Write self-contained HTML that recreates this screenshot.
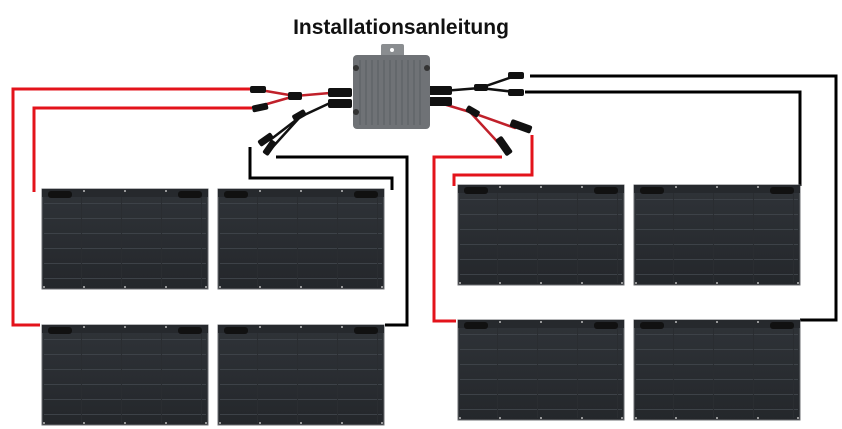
<!DOCTYPE html>
<html><head><style>
html,body{margin:0;padding:0;background:#fff;}
svg{display:block;}
</style></head><body>
<svg width="842" height="429" viewBox="0 0 842 429" xmlns="http://www.w3.org/2000/svg">
<defs>
<linearGradient id="pg" x1="0" y1="0" x2="0" y2="1">
<stop offset="0" stop-color="#2f3338"/><stop offset="1" stop-color="#24272b"/>
</linearGradient>
<pattern id="cells" width="40" height="15" patternUnits="userSpaceOnUse">
<rect width="40" height="15" fill="none"/>
<line x1="0" y1="14.5" x2="40" y2="14.5" stroke="#3d4248" stroke-width="1"/>
<line x1="39.5" y1="0" x2="39.5" y2="15" stroke="#2a2d31" stroke-width="1"/>
</pattern>
<g id="panel">
<rect x="0" y="0" width="166" height="100" fill="url(#pg)" stroke="#6b6e72" stroke-width="1"/>
<rect x="2" y="8" width="162" height="90" fill="url(#cells)"/>
<rect x="0" y="0" width="166" height="8" fill="#26292d"/>
<rect x="6" y="2" width="24" height="7" rx="3" fill="#111"/>
<rect x="136" y="2" width="24" height="7" rx="3" fill="#111"/>
<g fill="#bbb"><circle cx="42" cy="2" r="1"/><circle cx="83" cy="2" r="1"/><circle cx="124" cy="2" r="1"/>
<circle cx="2" cy="98" r="1"/><circle cx="42" cy="98" r="1"/><circle cx="83" cy="98" r="1"/><circle cx="124" cy="98" r="1"/><circle cx="164" cy="98" r="1"/></g>
</g>
</defs>

<text x="401" y="34" font-family="Liberation Sans, sans-serif" font-weight="bold" font-size="21" text-anchor="middle" fill="#111">Installationsanleitung</text>

<!-- wires -->
<g fill="none" stroke-width="3" stroke-linejoin="miter">
<polyline points="250,89 13,89 13,325 40,325" stroke="#e3131b"/>
<polyline points="252,108 34,108 34,192" stroke="#e3131b"/>
<polyline points="250,147 250,178 392,178 392,190" stroke="#000"/>
<polyline points="276,157 407,157 407,325 385,325" stroke="#000"/>
<polyline points="502,157 434,157 434,321 456,321" stroke="#e3131b"/>
<polyline points="532,135 532,175 454,175 454,186" stroke="#e3131b"/>
<polyline points="530,76 836,76 836,320 800,320" stroke="#000"/>
<polyline points="525,92 800,92 800,186" stroke="#000"/>
</g>

<!-- cable harness -->
<g fill="none" stroke-linecap="round">
<path d="M260,90 L295,96 L330,93" stroke="#c0202a" stroke-width="2.5"/>
<path d="M260,106 L295,96" stroke="#c0202a" stroke-width="2.5"/>
<path d="M330,103 L300,117 L270,140" stroke="#111" stroke-width="2.5"/>
<path d="M300,117 L270,150" stroke="#111" stroke-width="2.5"/>
<path d="M430,92 L480,88 L515,76" stroke="#111" stroke-width="2.5"/>
<path d="M480,88 L515,92" stroke="#111" stroke-width="2.5"/>
<path d="M430,100 L470,112 L515,128" stroke="#c0202a" stroke-width="2.5"/>
<path d="M470,112 L505,150" stroke="#c0202a" stroke-width="2.5"/>
</g>
<g fill="#111">
<rect x="250" y="86" width="16" height="7" rx="2"/>
<rect x="252" y="104" width="16" height="7" rx="2" transform="rotate(-12 260 107)"/>
<rect x="288" y="92" width="14" height="8" rx="2"/>
<rect x="328" y="88" width="24" height="9" rx="2"/>
<rect x="328" y="99" width="24" height="9" rx="2"/>
<rect x="292" y="112" width="14" height="7" rx="2" transform="rotate(-30 299 115)"/>
<rect x="258" y="136" width="16" height="7" rx="2" transform="rotate(-35 266 140)"/>
<rect x="262" y="144" width="16" height="7" rx="2" transform="rotate(-55 270 148)"/>
<rect x="428" y="86" width="24" height="9" rx="2"/>
<rect x="428" y="97" width="24" height="9" rx="2"/>
<rect x="474" y="84" width="14" height="7" rx="2"/>
<rect x="508" y="72" width="16" height="7" rx="2"/>
<rect x="508" y="89" width="16" height="7" rx="2"/>
<rect x="466" y="108" width="14" height="7" rx="2" transform="rotate(30 473 111)"/>
<rect x="510" y="122" width="22" height="8" rx="2" transform="rotate(20 520 126)"/>
<rect x="494" y="142" width="20" height="8" rx="2" transform="rotate(55 504 146)"/>
</g>

<!-- inverter -->
<path d="M381,57 L381,46 Q381,44 383,44 L402,44 Q404,44 404,46 L404,57 Z" fill="#8a8d90"/>
<circle cx="392" cy="50" r="2" fill="#fff"/>
<rect x="353" y="55" width="77" height="74" rx="4" fill="#6f7276"/>
<g stroke="#5a5d61" stroke-width="1">
<line x1="360" y1="60" x2="360" y2="125"/><line x1="366" y1="60" x2="366" y2="125"/><line x1="372" y1="60" x2="372" y2="125"/><line x1="378" y1="60" x2="378" y2="125"/><line x1="384" y1="60" x2="384" y2="125"/><line x1="390" y1="60" x2="390" y2="125"/><line x1="396" y1="60" x2="396" y2="125"/><line x1="402" y1="60" x2="402" y2="125"/><line x1="408" y1="60" x2="408" y2="125"/><line x1="414" y1="60" x2="414" y2="125"/><line x1="420" y1="60" x2="420" y2="125"/>
</g>
<g fill="#333"><circle cx="356" cy="68" r="3"/><circle cx="427" cy="68" r="3"/><circle cx="356" cy="112" r="3"/></g>

<!-- panels -->
<use href="#panel" x="42" y="189"/>
<use href="#panel" x="218" y="189"/>
<use href="#panel" x="42" y="325"/>
<use href="#panel" x="218" y="325"/>
<use href="#panel" x="458" y="185"/>
<use href="#panel" x="634" y="185"/>
<use href="#panel" x="458" y="320"/>
<use href="#panel" x="634" y="320"/>
</svg>
</body></html>
